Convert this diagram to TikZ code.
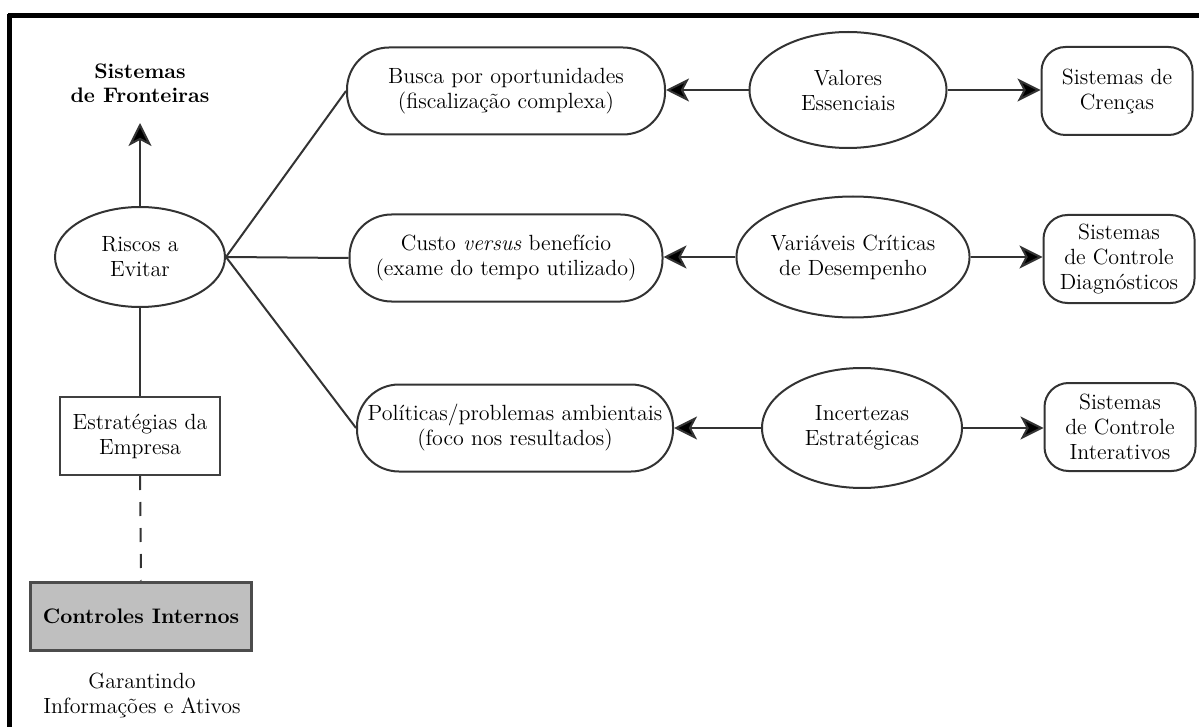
\documentclass[tikz,border=0pt]{standalone}
\usetikzlibrary{arrows.meta,shapes.geometric}
\begin{document}
\begin{tikzpicture}[x=0.5pt,y=-0.5pt,
  every node/.style={font=\fontsize{11}{12.5}\selectfont, align=center, inner sep=0pt},
  boldtext/.style={font=\fontsize{10.5}{12}\selectfont\bfseries},
  oval/.style={ellipse, draw=black!80, line width=1pt},
  stad/.style={rectangle, draw=black!80, line width=1pt, rounded corners=21pt, minimum height=43.5pt},
  sbox/.style={rectangle, draw=black!80, line width=1pt, rounded corners=12pt, minimum width=75.5pt, minimum height=44pt},
  conn/.style={draw=black!80, line width=1pt},
  arr/.style={conn, -{Stealth[length=11.5pt,width=11.5pt,inset=3pt,fill=black]}},
  frame/.style={draw=black, line width=2.5pt}
]
\useasboundingbox (0,0) rectangle (1199,727);
% frame
\draw[frame] (8,15.5) -- (1199,15.5);
\draw[frame] (9.5,14) -- (9.5,727);

% left column
\node[boldtext] (fr) at (140,83) {Sistemas\\de Fronteiras};
\coordinate (frtip) at (140,123);
\node[oval, minimum width=85pt, minimum height=50pt] (riscos) at (140,257) {Riscos a\\Evitar};
\node[rectangle, draw=black!75, line width=1pt, minimum width=80pt, minimum height=39pt] (estr) at (140,436) {Estratégias da\\Empresa};
\node[rectangle, draw=black!70, fill=black!25, line width=1.5pt, minimum width=110.5pt, minimum height=34pt, boldtext] (ctrl) at (141,616) {Controles Internos};
\node (gar) at (142,695) {Garantindo\\Informações e Ativos};

% middle column
\node[stad, minimum width=159pt] (busca) at (506,91) {Busca por oportunidades\\(fiscalização complexa)};
\node[stad, minimum width=156.5pt] (custo) at (506,258) {Custo \textit{versus} benefício\\(exame do tempo utilizado)};
\node[stad, minimum width=158pt] (polit) at (515,428) {Políticas/problemas ambientais\\(foco nos resultados)};

% ellipses
\node[oval, minimum width=98.5pt, minimum height=58pt] (val) at (848,90) {Valores\\Essenciais};
\node[oval, minimum width=101.5pt, minimum height=60.5pt] (var) at (853,257) {Variáveis Críticas\\de Desempenho};
\node[oval, minimum width=100pt, minimum height=60pt] (inc) at (862,428) {Incertezas\\Estratégicas};

% right boxes
\node[sbox] (cren) at (1117,91) {Sistemas de\\Crenças};
\node[sbox] (diag) at (1119,259) {Sistemas\\de Controle\\Diagnósticos};
\node[sbox] (inter) at (1120,427) {Sistemas\\de Controle\\Interativos};

% connectors
\draw[arr] (riscos.north) -- (frtip);
\draw[conn] (riscos.south) -- (estr.north);
\draw[conn, dash pattern=on 7pt off 6pt] (estr.south) -- (ctrl.north);
\draw[conn] (riscos.east) -- (busca.west);
\draw[conn] (riscos.east) -- (custo.west);
\draw[conn] (riscos.east) -- (polit.west);

\draw[arr] (val.west) -- (val.west -| busca.east);
\draw[arr] (var.west) -- (var.west -| custo.east);
\draw[arr] (inc.west) -- (inc.west -| polit.east);
\draw[arr] (val.east) -- (val.east -| cren.west);
\draw[arr] (var.east) -- (var.east -| diag.west);
\draw[arr] (inc.east) -- (inc.east -| inter.west);
\end{tikzpicture}
\end{document}
